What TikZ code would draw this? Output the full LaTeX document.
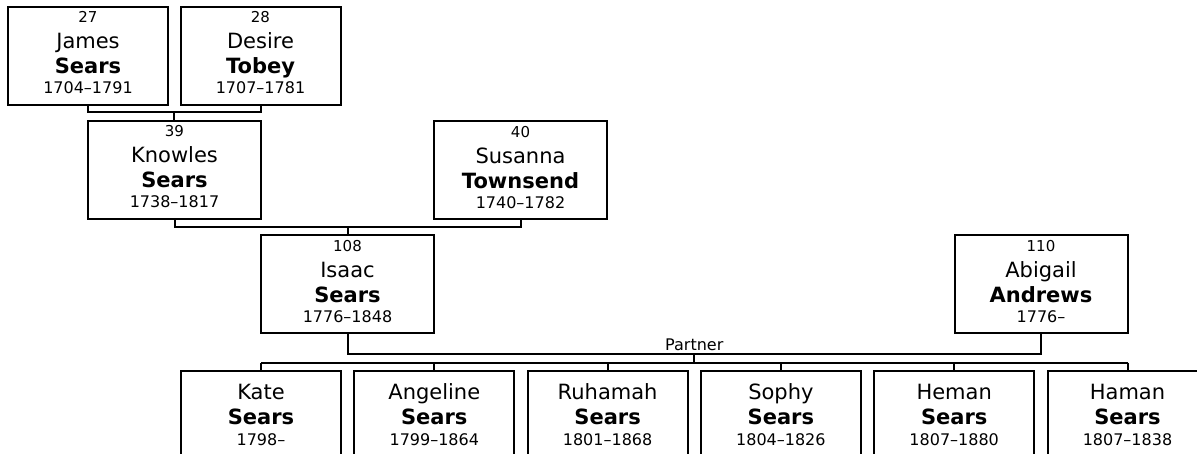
\documentclass[tikz,border=0pt]{standalone}
\usepackage{fontspec}
\setmainfont{DejaVu Sans}
\usetikzlibrary{positioning,calc}

\newcommand{\numsize}{\fontsize{15}{25}\selectfont}
\newcommand{\datesize}{\fontsize{16}{25}\selectfont}

\begin{document}
\begin{tikzpicture}[
    x=1pt, y=-1pt,
    node distance=13.3pt,
    person/.style={rectangle, draw, line width=2pt, inner sep=0pt, outer sep=0pt, minimum width=173pt, minimum height=98pt, align=center, font=\fontsize{21}{25}\selectfont},
    elder/.style={person, minimum width=160pt},
    child/.style={person, minimum width=160pt},
    link/.style={line width=2pt},
    tag/.style={font=\fontsize{16}{20}\selectfont, inner sep=0pt, anchor=base}
]
\clip (0,0) rectangle (1197,454);

% grandparents
\node[elder] (james) at (88,56) {{\numsize\rule{0pt}{12pt}27}\\[1pt] James\\ \textbf{Sears}\\[-5pt] {\datesize 1704--1791\rule[-7pt]{0pt}{7pt}}};
\node[elder] (desire) at (260.5,56) {{\numsize\rule{0pt}{12pt}28}\\[1pt] Desire\\ \textbf{Tobey}\\[-5pt] {\datesize 1707--1781\rule[-7pt]{0pt}{7pt}}};

% parents
\node[person] (knowles) at (174.5,170) {{\numsize\rule{0pt}{12pt}39}\\[1pt] Knowles\\ \textbf{Sears}\\[-5pt] {\datesize 1738--1817\rule[-7pt]{0pt}{7pt}}};
\node[person] (susanna) at (520.5,170.5) {{\numsize\rule{0pt}{12pt}40}\\[1pt] Susanna\\ \textbf{Townsend}\\[-5pt] {\datesize 1740--1782\rule[-7pt]{0pt}{7pt}}};

% couple
\node[person] (isaac) at (347.5,284.5) {{\numsize\rule{0pt}{12pt}108}\\[1pt] Isaac\\ \textbf{Sears}\\[-5pt] {\datesize 1776--1848\rule[-7pt]{0pt}{7pt}}};
\node[person] (abigail) at (1041,284.5) {{\numsize\rule{0pt}{12pt}110}\\[1pt] Abigail\\ \textbf{Andrews}\\[-5pt] {\datesize 1776--\rule[-7pt]{0pt}{7pt}}};

% children
\node[child, anchor=north] (kate) at (261,371) {\rule{0pt}{16pt}Kate\\ \textbf{Sears}\\[-4pt] {\datesize 1798--\rule[-12pt]{0pt}{12pt}}};
\node[child, right=of kate] (angeline) {\rule{0pt}{16pt}Angeline\\ \textbf{Sears}\\[-4pt] {\datesize 1799--1864\rule[-12pt]{0pt}{12pt}}};
\node[child, right=of angeline] (ruhamah) {\rule{0pt}{16pt}Ruhamah\\ \textbf{Sears}\\[-4pt] {\datesize 1801--1868\rule[-12pt]{0pt}{12pt}}};
\node[child, right=of ruhamah] (sophy) {\rule{0pt}{16pt}Sophy\\ \textbf{Sears}\\[-4pt] {\datesize 1804--1826\rule[-12pt]{0pt}{12pt}}};
\node[child, right=of sophy] (heman) {\rule{0pt}{16pt}Heman\\ \textbf{Sears}\\[-4pt] {\datesize 1807--1880\rule[-12pt]{0pt}{12pt}}};
\node[child, right=of heman] (haman) {\rule{0pt}{16pt}Haman\\ \textbf{Sears}\\[-4pt] {\datesize 1807--1838\rule[-12pt]{0pt}{12pt}}};

% connectors
\coordinate (jd) at ($(james.south)!0.5!(desire.south)+(0,7)$);
\draw[link] (james.south) |- (jd) -| (desire.south);
\draw[link] (jd) -- (jd |- knowles.north);

\coordinate (ks) at ($(knowles.south)!0.5!(susanna.south)+(0,8)$);
\draw[link] (knowles.south) |- (ks) -| (susanna.south);
\draw[link] (ks) -- (ks |- isaac.north);

\coordinate (ia) at ($(isaac.south)!0.5!(abigail.south)+(0,21)$);
\draw[link] (isaac.south) |- (ia) -| (abigail.south);
\node[tag] (partner) at ([yshift=4pt]ia) {Partner};

\coordinate (kids) at ($(ia)+(0,8)$);
\draw[link] (ia) -- (kids);
\draw[link] (kate.north |- kids) -- (haman.north |- kids);
\foreach \c in {kate,angeline,ruhamah,sophy,heman,haman}
    \draw[link] (\c.north |- kids) -- (\c.north);

\end{tikzpicture}
\end{document}
